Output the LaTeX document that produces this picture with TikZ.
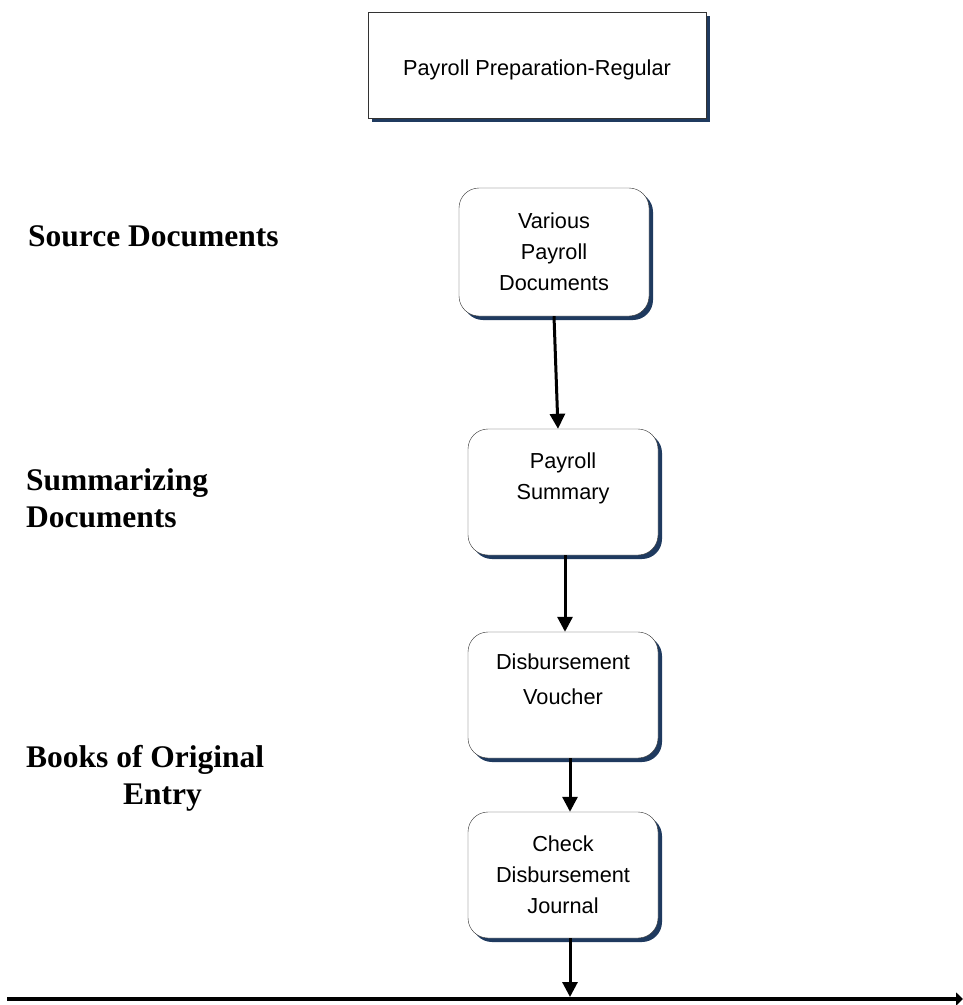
\documentclass[tikz,border=0pt]{standalone}
\usepackage{fontspec}
\setmainfont{Liberation Serif}
\setsansfont{Liberation Sans}
\usetikzlibrary{arrows.meta,shadows}
\definecolor{shadownavy}{HTML}{1F3A5F}
\begin{document}
\begin{tikzpicture}[x=1pt, y=-1pt,
  navyshadow/.style={drop shadow={shadow xshift=4pt, shadow yshift=-4pt, fill=shadownavy, opacity=1}},
  titlebox/.style={shape=rectangle, draw=black!80, fill=white, navyshadow, minimum width=338pt, minimum height=106pt, font=\sffamily\fontsize{21.7}{31}\selectfont},
  docbox/.style={shape=rectangle, rounded corners=20pt, draw=black!80, fill=white, navyshadow, minimum width=190pt, minimum height=126pt, align=center, font=\sffamily\fontsize{21.7}{31}\selectfont},
  stagelabel/.style={anchor=west, align=left, inner sep=0pt, font=\bfseries\fontsize{31.5}{37}\selectfont},
  flow/.style={-{Triangle[length=15pt,width=15pt]}, line width=3pt, draw=black}]
\useasboundingbox (0,0) rectangle (963,1005);
\node[titlebox] (title) at (537,65) {\raisebox{-5pt}[\height][\depth]{Payroll Preparation-Regular}};
\node[stagelabel] (src) at (28,236) {Source Documents};
\node[stagelabel] (summ) at (26,498) {Summarizing\\Documents};
\node[stagelabel] (books) at (26,778) {Books of Original\\\hspace*{97pt}Entry};
\node[docbox, minimum height=128pt] (1) at (554,252) {Various\\Payroll\\Documents};
\node[docbox] (2) at (563,492) {Payroll\\Summary\\\mbox{}};
\node[docbox] (3) at (563,695) {Disbursement\\[4pt]Voucher\\\mbox{}};
\node[docbox] (4) at (563,875) {Check\\Disbursement\\Journal};
\coordinate (left) at (7,999);
\coordinate (right) at (963,999);
\coordinate (hit) at (570,997);
\draw [flow] (1.south) -- ([xshift=-5pt]2.north);
\draw [flow] ([xshift=2pt]2.south) -- ([xshift=2pt]3.north);
\draw [flow] ([xshift=7pt]3.south) -- ([xshift=7pt]4.north);
\draw [flow] ([xshift=7pt]4.south) -- (hit);
\draw [-{Triangle[length=7pt,width=13pt]}, line width=4.5pt] (left) -- (right);
\end{tikzpicture}
\end{document}
